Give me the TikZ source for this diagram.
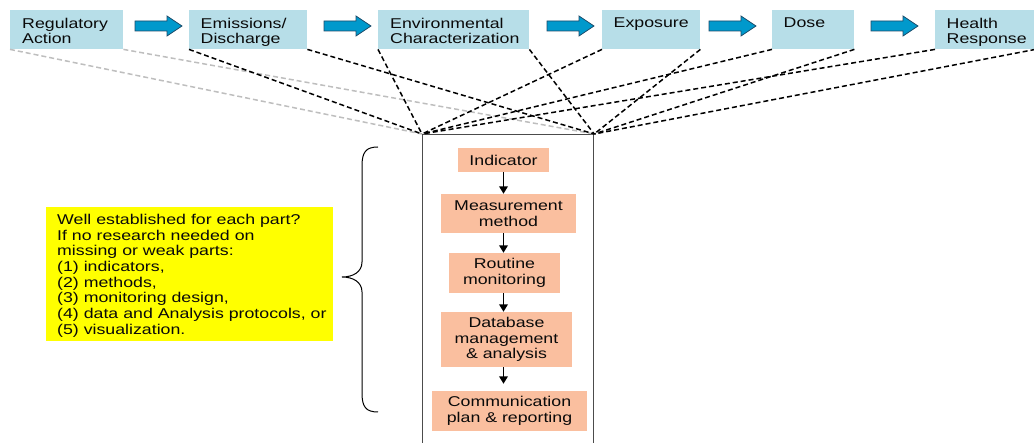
\documentclass[tikz,border=0pt]{standalone}
\usepackage{fontspec}
\setmainfont{Liberation Sans}[FakeStretch=1.25]
\usetikzlibrary{arrows.meta}
\definecolor{stageblue}{RGB}{183,222,232}
\definecolor{flowblue}{RGB}{0,153,204}
\definecolor{flowedge}{RGB}{30,75,105}
\definecolor{stepsalmon}{RGB}{250,191,159}
\definecolor{noteyellow}{RGB}{255,255,0}
\definecolor{textdark}{RGB}{10,10,10}
\definecolor{faintgray}{RGB}{190,190,190}

\begin{document}
\begin{tikzpicture}[x=1pt,y=-1pt,
  stage/.style={fill=stageblue, draw=none, anchor=north west,
    minimum height=39pt, inner sep=0pt},
  stagetext/.style={anchor=north west, align=left, inner sep=0pt,
    text=textdark, font=\fontsize{14.2}{15}\selectfont},
  stepbox/.style={fill=stepsalmon, draw=none, inner sep=0pt, align=center,
    text=textdark, font=\fontsize{14.2}{15.5}\selectfont},
  columnbox/.style={draw=black!70, line width=1.2pt, anchor=north west,
    minimum width=171pt, minimum height=330pt, inner sep=0pt},
  dline/.style={dash pattern=on 5pt off 3pt, line width=1.5pt, black},
  fadedline/.style={dline, faintgray},
  downarrow/.style={line width=1.8pt, -{Triangle[length=7.5pt,width=8.5pt]}},
  flowarrow/.pic={\path[fill=flowblue, draw=flowedge, line width=0.8pt]
    (0,-5) -- (32,-5) -- (32,-10) -- (47,0) -- (32,10) -- (32,5) -- (0,5) -- cycle;}
]
\useasboundingbox (0,0) rectangle (1034,443);

% chain of stages along the top
\node[stage, minimum width=113pt] (reg) at (10,10) {};
\node[stage, minimum width=118pt] (emi) at (189,10) {};
\node[stage, minimum width=151pt] (env) at (378,10) {};
\node[stage, minimum width=98pt]  (exp) at (602,10) {};
\node[stage, minimum width=82pt]  (dos) at (772,10) {};
\node[stage, minimum width=100pt] (hea) at (935,10) {};

\node[stagetext] (reg-t) at ([shift={(12,8)}]reg.north west) {Regulatory\\Action};
\node[stagetext] (emi-t) at ([shift={(11.5,8)}]emi.north west) {Emissions/\\Discharge};
\node[stagetext] (env-t) at ([shift={(12,8)}]env.north west) {Environmental\\Characterization};
\node[stagetext] (exp-t) at ([shift={(11.5,8)}]exp.north west) {Exposure};
\node[stagetext] (dos-t) at ([shift={(11.5,8)}]dos.north west) {Dose};
\node[stagetext] (hea-t) at ([shift={(11.5,8)}]hea.north west) {Health\\Response};

% block arrows between stages
\pic at (135,26) {flowarrow};
\pic at (324,26) {flowarrow};
\pic at (547,26) {flowarrow};
\pic at (709,26) {flowarrow};
\pic at (871,26) {flowarrow};

% tall column holding the monitoring steps
\node[columnbox] (col) at (422,134) {};

% dashed links from every stage to the column
\draw[fadedline] (reg.south west) -- (col.north west);
\draw[fadedline] (reg.south east) -- (col.north east);
\foreach \s in {emi,env,exp,dos,hea}{
  \draw[dline] (\s.south west) -- (col.north west);
  \draw[dline] (\s.south east) -- (col.north east);
}

% monitoring steps
\node[stepbox, minimum width=91pt,  minimum height=24pt] (ind)  at (503.5,160)   {Indicator};
\node[stepbox, minimum width=135pt, minimum height=39pt] (meas) at (508.5,213.5) {Measurement\\method};
\node[stepbox, minimum width=111pt, minimum height=40pt] (rout) at (504.5,273)   {Routine\\monitoring};
\node[stepbox, minimum width=131pt, minimum height=55pt] (db)   at (506.5,339.5) {Database\\management\\\& analysis};
\node[stepbox, minimum width=155pt, minimum height=40pt] (comm) at (509.5,411)   {Communication\\plan \& reporting};

\draw[downarrow] (ind.south) -- (ind.south |- meas.north);
\draw[downarrow] (ind.south |- meas.south) -- (ind.south |- rout.north);
\draw[downarrow] (ind.south |- rout.south) -- (ind.south |- db.north);
\draw[downarrow, shorten >=7pt] (ind.south |- db.south) -- (ind.south |- comm.north);

% curly brace gathering the steps
\draw[line width=1pt, black]
  (378,147) .. controls (366,147) and (362,152) .. (362,166)
  -- (362,262) .. controls (362,272) and (353,277) .. (342,277)
  .. controls (353,277) and (362,282) .. (362,292)
  -- (362,393) .. controls (362,407) and (366,412) .. (378,412);

% note on research needs
\node[fill=noteyellow, anchor=north west, minimum width=287pt,
  minimum height=134pt, inner sep=0pt] (note) at (46,207) {};
\node[anchor=north west, align=left, inner sep=0pt, text=textdark,
  font=\fontsize{14.2}{15.7}\selectfont] (note-t) at ([shift={(11,7)}]note.north west)
  {Well established for each part?\\
   If no research needed on\\
   missing or weak parts:\\
   (1) indicators,\\
   (2) methods,\\
   (3) monitoring design,\\
   (4) data and Analysis protocols, or\\
   (5) visualization.};
\end{tikzpicture}
\end{document}
